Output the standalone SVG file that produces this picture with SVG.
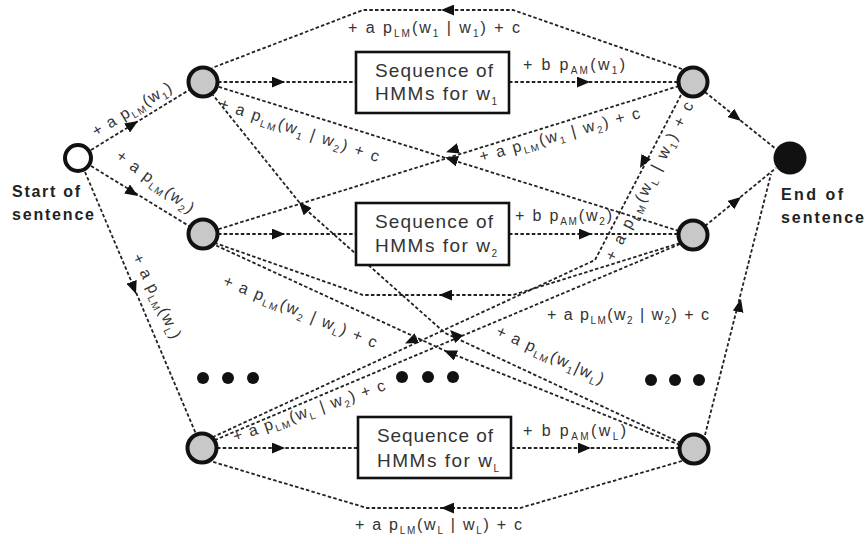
<svg xmlns="http://www.w3.org/2000/svg" width="866" height="544" viewBox="0 0 866 544">
<defs>
<marker id="ah" viewBox="0 0 12 10" refX="12" refY="5" markerWidth="13" markerHeight="11" markerUnits="userSpaceOnUse" orient="auto"><path d="M0,0 L12,5 L0,10 z" fill="#111"/></marker>
<style>
.ln{fill:none;stroke:#222;stroke-width:1.8;stroke-dasharray:3.5 2.2}
.ar{fill:none;stroke:none;marker-end:url(#ah)}
.nd{fill:#c8c8c8;stroke:#111;stroke-width:4}
.bx{fill:#fff;stroke:#111;stroke-width:2.6}
.bt{font-family:"Liberation Sans",Arial,sans-serif;font-size:19px;fill:#333}
.lb{font-family:"Liberation Sans",Arial,sans-serif;font-size:16px;fill:#333}
.s{font-size:10px}
.tt{font-family:"Liberation Sans",Arial,sans-serif;font-size:16px;font-weight:bold;fill:#222}
.dot{fill:#111}
</style>
</defs>
<rect width="866" height="544" fill="#fff"/>
<g id="connectors">
<path class="ln" d="M218,82 L356,82"/><path class="ar" d="M272,82 L285,82"/>
<path class="ln" d="M509,82 L678,82"/><path class="ar" d="M577,82 L590,82"/>
<path class="ln" d="M218,234 L356,234"/><path class="ar" d="M272,234 L285,234"/>
<path class="ln" d="M509,234 L678,234"/><path class="ar" d="M579,234 L592,234"/>
<path class="ln" d="M217,448 L358,448"/><path class="ar" d="M272,448 L285,448"/>
<path class="ln" d="M511,448 L679,448"/><path class="ar" d="M578,448 L591,448"/>
<path class="ln" d="M682,69 L513,10 L363,10 L212,68"/><path class="ar" d="M454,10 L441,10"/>
<path class="ln" d="M680,243 L513,295 L363,295 L215,243"/><path class="ar" d="M452,295 L439,295"/>
<path class="ln" d="M682,461 L520,508 L367,508 L210,461"/><path class="ar" d="M454,508 L441,508"/>
<path class="ln" d="M91,150 L189,90"/><path class="ar" d="M127,128 L138,121"/>
<path class="ln" d="M91,166 L189,226"/><path class="ar" d="M127,189 L138,196"/>
<path class="ln" d="M85,172 L196,434"/><path class="ar" d="M132,283 L136,294"/>
<path class="ln" d="M705,92 L776,149"/><path class="ar" d="M731,113 L741,121"/>
<path class="ln" d="M705,226 L776,168"/><path class="ar" d="M731,205 L741,197"/>
<path class="ln" d="M705,435 L771,174"/><path class="ar" d="M738,312 L741,299"/>
<path class="ln" d="M679,231 L216,86"/><path class="ar" d="M457,161 L445,157.3"/>
<path class="ln" d="M679,86 L216,230"/><path class="ar" d="M458,148.5 L446,152.2"/>
<path class="ln" d="M681,95 L595,260 L213,437"/><path class="ar" d="M646,157 L640,168"/><path class="ar" d="M417,338 L405,343.5"/>
<path class="ln" d="M680,244 L215,440"/>
<path class="ln" d="M680,445 L450,353 L215,245"/><path class="ar" d="M456,355.5 L444,350.5"/>
<path class="ln" d="M681,443 L445,333 L303,207 L213,95"/><path class="ar" d="M459,339 L450,330"/><path class="ar" d="M308,212 L299,202"/>
</g>
<g id="start"><circle cx="78" cy="158" r="13" fill="#fff" stroke="#111" stroke-width="4"/>
<text class="tt" x="12" y="197" textLength="68" lengthAdjust="spacing">Start of</text>
<text class="tt" x="12" y="220" textLength="82" lengthAdjust="spacing">sentence</text></g>
<g id="end"><circle cx="790" cy="158" r="16.5" fill="#111"/>
<text class="tt" x="781" y="200" textLength="62" lengthAdjust="spacing">End of</text>
<text class="tt" x="781" y="223" textLength="83" lengthAdjust="spacing">sentence</text></g>
<g id="L1"><circle class="nd" cx="203" cy="82" r="14.5"/></g>
<g id="L2"><circle class="nd" cx="203" cy="234" r="14.5"/></g>
<g id="LL"><circle class="nd" cx="202" cy="448" r="14.5"/></g>
<g id="R1"><circle class="nd" cx="693" cy="82" r="14.5"/></g>
<g id="R2"><circle class="nd" cx="693" cy="235" r="14.5"/></g>
<g id="RL"><circle class="nd" cx="694" cy="449" r="14.5"/></g>
<g id="box1"><rect class="bx" x="356" y="52" width="153" height="61"/>
<text class="bt" x="375" y="77" textLength="118" lengthAdjust="spacing">Sequence of</text>
<text class="bt" x="375" y="100" textLength="122" lengthAdjust="spacing">HMMs for w<tspan class="s" dy="5">1</tspan></text></g>
<g id="box2"><rect class="bx" x="356" y="203" width="153" height="62"/>
<text class="bt" x="375" y="228" textLength="118" lengthAdjust="spacing">Sequence of</text>
<text class="bt" x="375" y="252" textLength="122" lengthAdjust="spacing">HMMs for w<tspan class="s" dy="5">2</tspan></text></g>
<g id="boxL"><rect class="bx" x="358" y="417" width="153" height="61"/>
<text class="bt" x="377" y="442" textLength="116" lengthAdjust="spacing">Sequence of</text>
<text class="bt" x="377" y="467" textLength="122" lengthAdjust="spacing">HMMs for w<tspan class="s" dy="5">L</tspan></text></g>
<g id="dots">
<circle class="dot" cx="203" cy="378" r="6"/><circle class="dot" cx="228" cy="378" r="6"/><circle class="dot" cx="253" cy="378" r="6"/>
<circle class="dot" cx="402" cy="377" r="6"/><circle class="dot" cx="428" cy="377" r="6"/><circle class="dot" cx="453" cy="377" r="6"/>
<circle class="dot" cx="651" cy="380" r="6"/><circle class="dot" cx="675" cy="380" r="6"/><circle class="dot" cx="699" cy="380" r="6"/>
</g>
<g id="labels">
<text class="lb" x="348" y="33" textLength="172" lengthAdjust="spacing">+ a p<tspan class="s" dy="4">LM</tspan><tspan dy="-4">(w</tspan><tspan class="s" dy="4">1</tspan><tspan dy="-4"> | w</tspan><tspan class="s" dy="4">1</tspan><tspan dy="-4">) + c</tspan></text>
<text class="lb" x="355" y="530" textLength="167" lengthAdjust="spacing">+ a p<tspan class="s" dy="4">LM</tspan><tspan dy="-4">(w</tspan><tspan class="s" dy="4">L</tspan><tspan dy="-4"> | w</tspan><tspan class="s" dy="4">L</tspan><tspan dy="-4">) + c</tspan></text>
<text class="lb" x="547" y="320" textLength="162" lengthAdjust="spacing">+ a p<tspan class="s" dy="4">LM</tspan><tspan dy="-4">(w</tspan><tspan class="s" dy="4">2</tspan><tspan dy="-4"> | w</tspan><tspan class="s" dy="4">2</tspan><tspan dy="-4">) + c</tspan></text>
<text class="lb" x="523" y="70" textLength="102" lengthAdjust="spacing">+ b p<tspan class="s" dy="4">AM</tspan><tspan dy="-4">(w</tspan><tspan class="s" dy="4">1</tspan><tspan dy="-4">)</tspan></text>
<text class="lb" x="515" y="221" textLength="97" lengthAdjust="spacing">+ b p<tspan class="s" dy="4">AM</tspan><tspan dy="-4">(w</tspan><tspan class="s" dy="4">2</tspan><tspan dy="-4">)</tspan></text>
<text class="lb" x="523" y="436" textLength="103" lengthAdjust="spacing">+ b p<tspan class="s" dy="4">AM</tspan><tspan dy="-4">(w</tspan><tspan class="s" dy="4">L</tspan><tspan dy="-4">)</tspan></text>
<text class="lb" transform="translate(218,108) rotate(18.8)" textLength="168" lengthAdjust="spacing">+ a p<tspan class="s" dy="4">LM</tspan><tspan dy="-4">(w</tspan><tspan class="s" dy="4">1</tspan><tspan dy="-4"> | w</tspan><tspan class="s" dy="4">2</tspan><tspan dy="-4">) + c</tspan></text>
<text class="lb" transform="translate(481,162) rotate(-15.4)" textLength="166" lengthAdjust="spacing">+ a p<tspan class="s" dy="4">LM</tspan><tspan dy="-4">(w</tspan><tspan class="s" dy="4">1</tspan><tspan dy="-4"> | w</tspan><tspan class="s" dy="4">2</tspan><tspan dy="-4">) + c</tspan></text>
<text class="lb" transform="translate(614,262) rotate(-63)" textLength="176" lengthAdjust="spacing">+ a p<tspan class="s" dy="4">LM</tspan><tspan dy="-4">(w</tspan><tspan class="s" dy="4">L</tspan><tspan dy="-4"> | w</tspan><tspan class="s" dy="4">1</tspan><tspan dy="-4">) + c</tspan></text>
<text class="lb" transform="translate(222,285) rotate(22.5)" textLength="165" lengthAdjust="spacing">+ a p<tspan class="s" dy="4">LM</tspan><tspan dy="-4">(w</tspan><tspan class="s" dy="4">2</tspan><tspan dy="-4"> | w</tspan><tspan class="s" dy="4">L</tspan><tspan dy="-4">) + c</tspan></text>
<text class="lb" transform="translate(495,335) rotate(25)" textLength="117" lengthAdjust="spacing">+ a p<tspan class="s" dy="4">LM</tspan><tspan dy="-4">(w</tspan><tspan class="s" dy="4">1</tspan><tspan dy="-4">|w</tspan><tspan class="s" dy="4">L</tspan><tspan dy="-4">)</tspan></text>
<text class="lb" transform="translate(235,442) rotate(-19)" textLength="160" lengthAdjust="spacing">+ a p<tspan class="s" dy="4">LM</tspan><tspan dy="-4">(w</tspan><tspan class="s" dy="4">L</tspan><tspan dy="-4"> | w</tspan><tspan class="s" dy="4">2</tspan><tspan dy="-4">) + c</tspan></text>
<text class="lb" transform="translate(96,137) rotate(-31)" textLength="90" lengthAdjust="spacing">+ a p<tspan class="s" dy="4">LM</tspan><tspan dy="-4">(w</tspan><tspan class="s" dy="4">1</tspan><tspan dy="-4">)</tspan></text>
<text class="lb" transform="translate(115,158) rotate(37)" textLength="93" lengthAdjust="spacing">+ a p<tspan class="s" dy="4">LM</tspan><tspan dy="-4">(w</tspan><tspan class="s" dy="4">2</tspan><tspan dy="-4">)</tspan></text>
<text class="lb" transform="translate(132,257) rotate(64)" textLength="92" lengthAdjust="spacing">+ a p<tspan class="s" dy="4">LM</tspan><tspan dy="-4">(w</tspan><tspan class="s" dy="4">L</tspan><tspan dy="-4">)</tspan></text>
</g>
</svg>
